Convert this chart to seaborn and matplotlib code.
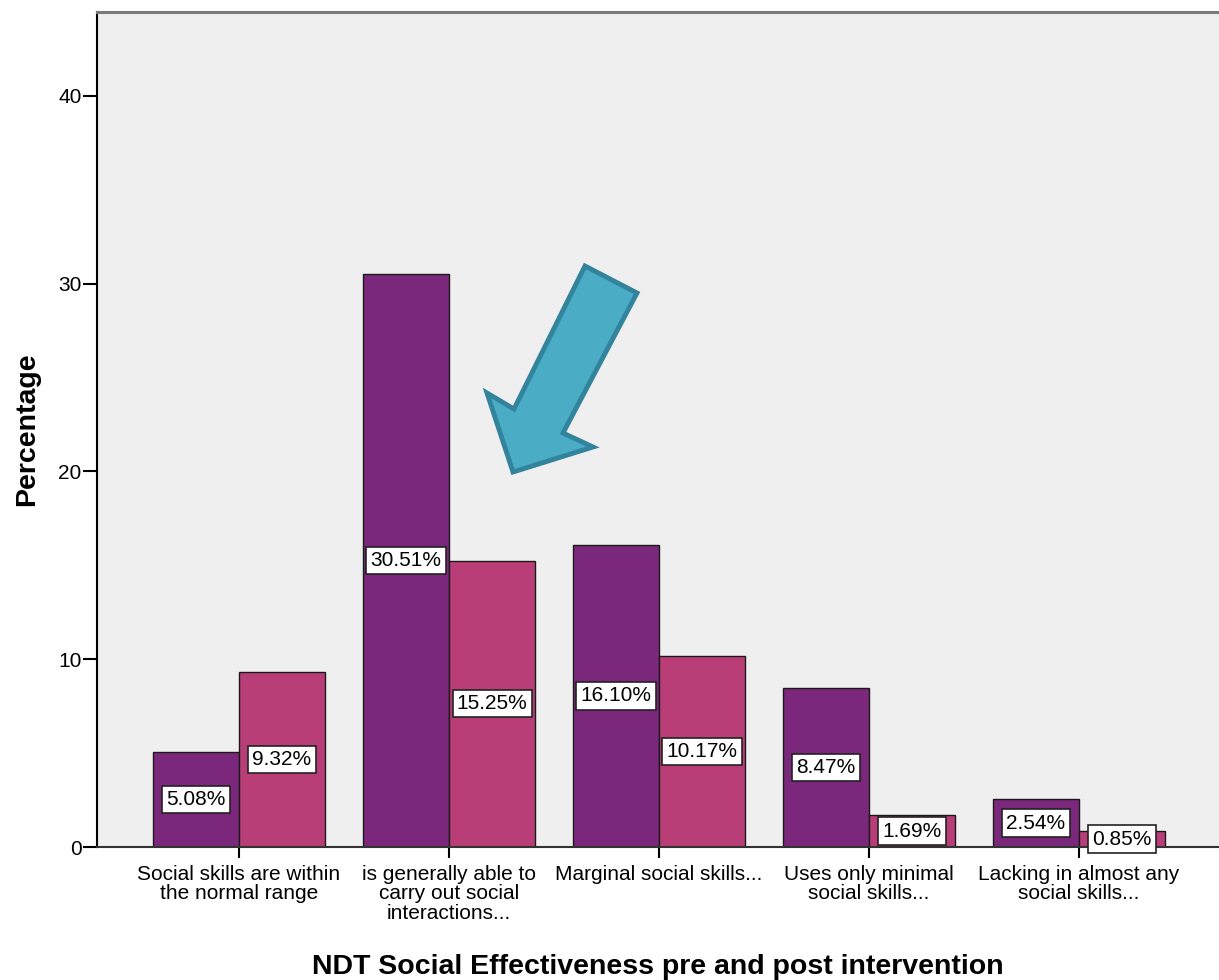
import numpy as np
import pandas as pd
import matplotlib
matplotlib.use('Agg')
import matplotlib.pyplot as plt
from matplotlib.patches import Polygon
import seaborn as sns

# data
categories = [
    'Social skills are within\nthe normal range',
    'is generally able to\ncarry out social\ninteractions...',
    'Marginal social skills...',
    'Uses only minimal\nsocial skills...',
    'Lacking in almost any\nsocial skills...',
]
groups = ['Pre', 'Post']
pre_pct = [5.08, 30.51, 16.10, 8.47, 2.54]
post_pct = [9.32, 15.25, 10.17, 1.69, 0.85]
y_ticks = [0, 10, 20, 30, 40]

PURPLE = '#7b277b'
PINK = '#b93e78'
BG = '#efefef'

df = pd.DataFrame({
    'category': categories * 2,
    'time': [groups[0]] * len(categories) + [groups[1]] * len(categories),
    'percent': pre_pct + post_pct,
})

sns.set_style('white')
plt.rcParams['font.family'] = ['Liberation Sans', 'DejaVu Sans']
plt.rcParams['text.color'] = 'black'
plt.rcParams['axes.labelcolor'] = 'black'

W, H = 1219, 980
fig = plt.figure(figsize=(W / 100, H / 100), dpi=100)
ax = fig.add_axes([97 / W, 133 / H, 1 - 97 / W, 835 / H])
ax.set_facecolor(BG)

sns.barplot(
    data=df, x='category', y='percent', hue='time', order=categories,
    hue_order=groups, palette=[PURPLE, PINK], width=0.82, saturation=1,
    edgecolor='#1a1a1a', linewidth=1, legend=False, ax=ax,
)

# value labels in white boxes at mid-height of each bar
for cont, vals in zip(ax.containers, [pre_pct, post_pct]):
    for bar, v in zip(cont, vals):
        ax.text(bar.get_x() + bar.get_width() / 2, v / 2, f'{v:.2f}%',
                ha='center', va='center', fontsize=15, color='black',
                bbox=dict(boxstyle='square,pad=0.2', fc='white',
                          ec='#222222', lw=1.2))

ax.set_xlim((97 - 239) / 210, (W - 239) / 210)
ax.set_ylim(0, 44.47)
ax.set_yticks(y_ticks)
ax.tick_params(axis='y', direction='out', length=10, width=1.5,
               labelsize=15, pad=1, colors='black', left=True)
ax.tick_params(axis='x', direction='out', length=8, width=1.5,
               labelsize=15, pad=5, colors='black', bottom=True)
for lab in ax.get_xticklabels():
    lab.set_linespacing(1.02)

ax.spines['right'].set_visible(False)
ax.spines['top'].set_color('#7a7a7a')
ax.spines['top'].set_linewidth(2.2)
ax.spines['left'].set_color('black')
ax.spines['left'].set_linewidth(1.5)
ax.spines['bottom'].set_color('#333333')
ax.spines['bottom'].set_linewidth(1.5)

ax.set_ylabel('Percentage', fontsize=20.5, fontweight='bold', color='black')
ax.set_xlabel('NDT Social Effectiveness pre and post intervention',
              fontsize=20.5, fontweight='bold', color='black')
ax.yaxis.set_label_coords(-0.051, 0.5)
ax.xaxis.set_label_coords(0.5, -0.128)

# the blue call-out arrow drawn over the chart
arrow_px = [(585, 266), (637, 293), (563, 433), (593, 447),
            (513, 472), (487, 393), (514, 409)]
arrow = Polygon([(x / W, 1 - y / H) for x, y in arrow_px], closed=True,
                transform=fig.transFigure, fc='#4bacc6', ec='#31849b',
                lw=3.5, joinstyle='miter', zorder=10)
fig.patches.append(arrow)

fig.savefig('out.png', dpi=100, facecolor='white')
